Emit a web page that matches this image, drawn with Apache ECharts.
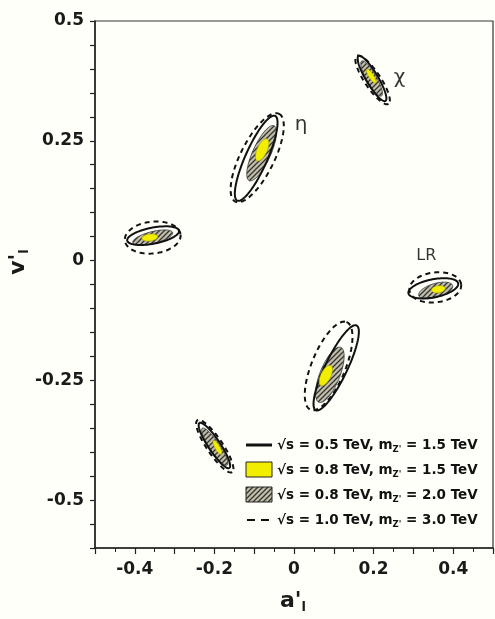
<!DOCTYPE html>
<html>
<head>
<meta charset="utf-8">
<script src="https://cdn.jsdelivr.net/npm/echarts@6/dist/echarts.min.js"></script>
<style>
  html, body { margin: 0; padding: 0; background: #fffffa; }
  #chart { width: 495px; height: 619px; }
</style>
</head>
<body>
<div id="chart"></div>
<script>
// Contour ellipses in the (a'_l, v'_l) plane.
// Each row: [centre a', centre v', major half-axis da', dv', minor half-axis da', dv']
// Order of rows: chi, eta, LR, -chi, -eta, -LR
const contourDashed = [   // sqrt(s) = 1.0 TeV, mZ' = 3.0 TeV
  [0.1975, 0.377, 0.040, -0.050, -0.0167, -0.0093],
  [-0.0925, 0.2146, 0.055, 0.0917, 0.038, -0.0158],
  [0.355, -0.056, 0.065, 0.00625, 0.0043, -0.031],
  [-0.199, -0.3875, 0.0438, -0.0542, -0.0166, -0.0093],
  [0.087, -0.220, 0.045, 0.0917, 0.0396, -0.0127],
  [-0.355, 0.048, 0.070, 0.00625, 0.0043, -0.033]
];
const contourSolid = [    // sqrt(s) = 0.5 TeV, mZ' = 1.5 TeV
  [0.196, 0.380, 0.0338, -0.0469, -0.0129, -0.0064],
  [-0.095, 0.2135, 0.0475, 0.0885, 0.025, -0.0094],
  [0.350, -0.058, 0.0625, 0.0104, 0.0044, -0.0184],
  [-0.200, -0.386, 0.0375, -0.0469, -0.0125, -0.0069],
  [0.106, -0.224, 0.0513, 0.0885, 0.0248, -0.010],
  [-0.354, 0.052, 0.065, 0.0104, 0.0038, -0.0164]
];
const contourHatched = [  // sqrt(s) = 0.8 TeV, mZ' = 2.0 TeV
  [0.195, 0.380, 0.025, -0.0365, -0.0109, -0.0052],
  [-0.0813, 0.224, 0.03125, 0.0573, 0.0205, -0.0077],
  [0.356, -0.0625, 0.0425, 0.0104, 0.005, -0.014],
  [-0.199, -0.3885, 0.0313, -0.0385, -0.0104, -0.0058],
  [0.090, -0.2385, 0.0275, 0.0573, 0.0232, -0.0077],
  [-0.355, 0.048, 0.050, 0.0104, 0.0036, -0.0121]
];
const contourYellow = [   // sqrt(s) = 0.8 TeV, mZ' = 1.5 TeV
  [0.194, 0.385, 0.0113, -0.0146, -0.0053, -0.0028],
  [-0.080, 0.231, 0.0125, 0.0229, 0.0114, -0.0043],
  [0.3625, -0.060, 0.0175, 0.002, 0.0012, -0.0073],
  [-0.1925, -0.390, 0.010, -0.0146, -0.0054, -0.0026],
  [0.080, -0.240, 0.0125, 0.0208, 0.0112, -0.0047],
  [-0.3625, 0.048, 0.020, 0.002, 0.0011, -0.0073]
];
// Model names and where they sit
const modelNames = ['χ', 'η', 'LR'];
const modelLabelPos = [[0.265, 0.381], [0.0175, 0.283], [0.3325, 0.0104]];

const legendRows = [
  { kind: 'solid',   s: '0.5', m: '1.5' },
  { kind: 'yellow',  s: '0.8', m: '1.5' },
  { kind: 'hatched', s: '0.8', m: '2.0' },
  { kind: 'dashed',  s: '1.0', m: '3.0' }
];

// hatch pattern
const hatch = document.createElement('canvas');
hatch.width = 5; hatch.height = 5;
(function () {
  const c = hatch.getContext('2d');
  c.fillStyle = '#c2bead';
  c.fillRect(0, 0, 5, 5);
  c.strokeStyle = '#35352e';
  c.lineWidth = 1.3;
  c.beginPath();
  c.moveTo(-1, 6); c.lineTo(6, -1);
  c.moveTo(-1, 1); c.lineTo(1, -1);
  c.moveTo(4, 6); c.lineTo(6, 4);
  c.stroke();
})();
const hatchFill = { image: hatch, repeat: 'repeat' };

const styles = {
  dashed:  { fill: 'transparent', stroke: '#111', lineWidth: 2, lineDash: [5, 4] },
  solid:   { fill: 'transparent', stroke: '#111', lineWidth: 2 },
  hatched: { fill: hatchFill, stroke: '#333', lineWidth: 0.8 },
  yellow:  { fill: '#f2ee00', stroke: '#9a9600', lineWidth: 0.6 }
};

function ellipseRenderer(style) {
  return function (params, api) {
    const cx = api.value(0), cy = api.value(1);
    const ux = api.value(2), uy = api.value(3);
    const vx = api.value(4), vy = api.value(5);
    const pts = [];
    const N = 90;
    for (let k = 0; k < N; k++) {
      const t = 2 * Math.PI * k / N;
      const c = Math.cos(t), s = Math.sin(t);
      pts.push(api.coord([cx + ux * c + vx * s, cy + uy * c + vy * s]));
    }
    return { type: 'polygon', shape: { points: pts }, style: style };
  };
}

function contourSeries(name, data, style, z) {
  return {
    name: name,
    type: 'custom',
    renderItem: ellipseRenderer(style),
    data: data,
    dimensions: ['a', 'v', 'ux', 'uy', 'vx', 'vy'],
    encode: { x: 0, y: 1 },
    z: z,
    silent: true,
    animation: false
  };
}

const tickFont = { fontFamily: 'DejaVu Sans', fontWeight: 'bold', fontSize: 17, color: '#1a1a1a' };

// legend block
const legendX = 246, legendY0 = 445, legendDy = 25;
const legendGraphics = [];
legendRows.forEach(function (r, i) {
  const y = legendY0 + i * legendDy;
  if (r.kind === 'solid') {
    legendGraphics.push({ type: 'line', shape: { x1: legendX, y1: y, x2: legendX + 26, y2: y },
      style: { stroke: '#111', lineWidth: 3 } });
  } else if (r.kind === 'dashed') {
    legendGraphics.push({ type: 'line', shape: { x1: legendX + 1, y1: y, x2: legendX + 26, y2: y },
      style: { stroke: '#111', lineWidth: 2, lineDash: [8, 6] } });
  } else {
    legendGraphics.push({ type: 'rect', shape: { x: legendX, y: y - 8, width: 26, height: 15 },
      style: { fill: r.kind === 'yellow' ? '#f2ee00' : hatchFill, stroke: '#222', lineWidth: 1 } });
  }
  legendGraphics.push({
    type: 'text', x: legendX + 31, y: y, style: {
      text: '{n|√s = ' + r.s + ' TeV, m}{s|Z\'}{n| = ' + r.m + ' TeV}',
      verticalAlign: 'middle',
      rich: {
        n: { fontFamily: 'DejaVu Sans', fontWeight: 'bold', fontSize: 13.5, fill: '#111', lineHeight: 18, verticalAlign: 'middle' },
        s: { fontFamily: 'DejaVu Sans', fontWeight: 'bold', fontSize: 8.5, fill: '#111', lineHeight: 10, verticalAlign: 'bottom' }
      }
    }
  });
});

const chart = echarts.init(document.getElementById('chart'), null, { renderer: 'canvas' });
chart.setOption({
  backgroundColor: '#fffffa',
  animation: false,
  grid: { left: 95, top: 21, width: 398, height: 527, show: true, borderColor: '#333', borderWidth: 1.2, backgroundColor: 'transparent' },
  xAxis: {
    type: 'value', min: -0.5, max: 0.5, interval: 0.1,
    axisLine: { onZero: false, lineStyle: { color: '#222', width: 1.5 } },
    axisTick: { show: true, inside: false, length: 6, lineStyle: { color: '#222', width: 1.2 } },
    minorTick: { show: true, splitNumber: 2, length: 4, lineStyle: { color: '#222', width: 1 } },
    splitLine: { show: false },
    axisLabel: Object.assign({ margin: 13, showMinLabel: false, showMaxLabel: false,
      formatter: function (v) {
        const k = Math.round(v * 10);
        if (k % 2 !== 0 || Math.abs(k) > 4) return '';
        return k === 0 ? '0' : (k / 10).toFixed(1);
      } }, tickFont)
  },
  yAxis: {
    type: 'value', min: -0.6, max: 0.5, interval: 0.05,
    axisLine: { onZero: false, lineStyle: { color: '#222', width: 1.5 } },
    axisTick: { show: true, inside: false, length: 5, lineStyle: { color: '#222', width: 1.2 } },
    splitLine: { show: false },
    axisLabel: Object.assign({ margin: 11,
      formatter: function (v) {
        const q = v * 4;
        if (Math.abs(q - Math.round(q)) > 1e-6) return '';
        if (Math.abs(v) < 1e-9) return '0';
        return String(+v.toFixed(2));
      } }, tickFont)
  },
  graphic: [
    { type: 'text', x: 293, y: 601, style: {
        text: "{b|a'}{s|l}", align: 'center', verticalAlign: 'middle',
        rich: { b: { fontFamily: 'DejaVu Sans', fontWeight: 'bold', fontSize: 22, fill: '#1a1a1a', lineHeight: 26, verticalAlign: 'middle' },
                s: { fontFamily: 'DejaVu Sans', fontWeight: 'bold', fontSize: 13, fill: '#1a1a1a', lineHeight: 12, verticalAlign: 'bottom' } } } },
    { type: 'text', x: 18, y: 262, rotation: Math.PI / 2, style: {
        text: "{b|v'}{s|l}", align: 'center', verticalAlign: 'middle',
        rich: { b: { fontFamily: 'DejaVu Sans', fontWeight: 'bold', fontSize: 22, fill: '#1a1a1a', lineHeight: 26, verticalAlign: 'middle' },
                s: { fontFamily: 'DejaVu Sans', fontWeight: 'bold', fontSize: 13, fill: '#1a1a1a', lineHeight: 12, verticalAlign: 'bottom' } } } },
    { type: 'group', children: legendGraphics }
  ],
  series: [
    contourSeries("√s = 1.0 TeV, mZ' = 3.0 TeV", contourDashed, styles.dashed, 2),
    contourSeries("√s = 0.8 TeV, mZ' = 2.0 TeV", contourHatched, styles.hatched, 3),
    contourSeries("√s = 0.5 TeV, mZ' = 1.5 TeV", contourSolid, styles.solid, 4),
    contourSeries("√s = 0.8 TeV, mZ' = 1.5 TeV", contourYellow, styles.yellow, 5),
    {
      type: 'scatter',
      data: modelLabelPos.map(function (p, i) { return { value: p, name: modelNames[i] }; }),
      symbolSize: 0,
      itemStyle: { color: 'transparent' },
      silent: true,
      z: 6,
      label: {
        show: true, position: 'inside',
        color: '#000', fontFamily: 'DejaVu Sans', fontSize: 16,
        formatter: function (p) { return (p.name.length > 1 ? '{sm|' : '{big|') + p.name + '}'; },
        rich: {
          big: { fontFamily: 'DejaVu Sans', fontSize: 20, color: '#000' },
          sm: { fontFamily: 'DejaVu Sans', fontSize: 16, color: '#000' }
        }
      }
    }
  ]
});
</script>
</body>
</html>
